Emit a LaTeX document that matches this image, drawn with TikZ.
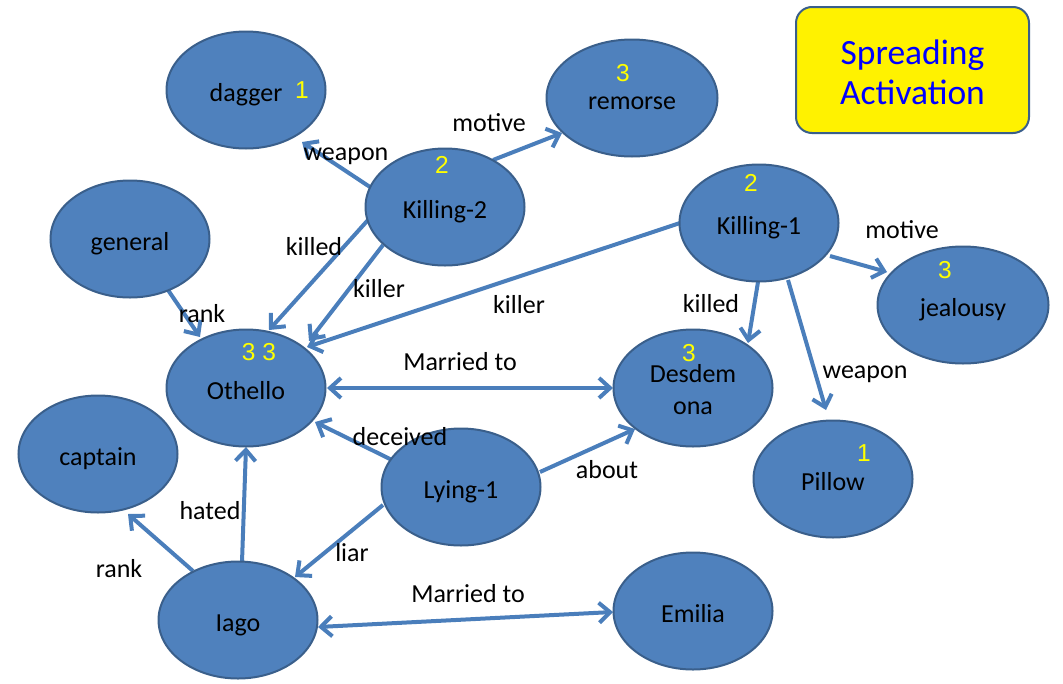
\documentclass[tikz,border=0pt]{standalone}
\usepackage{fontspec}
\setmainfont{Carlito}
\newfontfamily\numfont{Liberation Sans}
\usetikzlibrary{shapes.geometric,arrows.meta,calc}
\definecolor{nodefill}{HTML}{4F81BD}
\definecolor{nodeedge}{HTML}{3A5F8B}
\definecolor{linkcol}{HTML}{4A7EBB}
\definecolor{titleblue}{HTML}{0000FF}
\definecolor{numyellow}{HTML}{FFFF00}
\pgfdeclarelayer{bg}
\pgfsetlayers{bg,main}
\begin{document}
\begin{tikzpicture}[x=1pt,y=-1pt,
  concept/.style={ellipse, draw=nodeedge, line width=2pt, fill=nodefill, minimum width=159pt, minimum height=117pt, inner sep=0pt, font=\fontsize{26}{32}\selectfont, align=center, text height=26pt, text depth=4pt},
  wide/.style={concept, minimum width=171pt},
  twoline/.style={text height=57pt, text depth=4pt},
  link/.style={draw=linkcol, line width=4pt, -{Straight Barb[length=11pt,width=20pt]}},
  both/.style={draw=linkcol, line width=4pt, {Straight Barb[length=11pt,width=20pt]}-{Straight Barb[length=11pt,width=20pt]}},
  lbl/.style={font=\fontsize{26}{30}\selectfont, inner sep=0pt},
  num/.style={font=\numfont\fontsize{24.5}{26}\selectfont, text=numyellow, inner sep=0pt},
  titlebox/.style={draw=nodeedge, line width=2pt, fill=yellow, rounded corners=16pt, minimum width=233pt, minimum height=126pt, text=titleblue, font=\fontsize{35.5}{40}\selectfont, align=center, text height=72pt, text depth=4pt}
]
\useasboundingbox (0,0) rectangle (1063,683);

% concept nodes
\node[concept] (dagger) at (246,90) {dagger};
\node[wide] (remorse) at (632,98) {remorse};
\node[concept] (k2) at (445,207) {Killing-2};
\node[concept] (k1) at (759,223) {Killing-1};
\node[wide] (jealousy) at (963,305) {jealousy};
\node[concept] (general) at (130,239) {general};
\node[concept] (othello) at (246,388) {Othello};
\node[concept, twoline] (desdemona) at (693,388) {Desdem\\ona};
\node[concept] (captain) at (98,454) {captain};
\node[concept] (lying) at (461,487) {Lying-1};
\node[concept] (pillow) at (833,479) {Pillow};
\node[concept] (iago) at (238,620) {Iago};
\node[concept] (emilia) at (693,611) {Emilia};

\node[titlebox] (title) at (912.5,70) {Spreading\\Activation};

% connectors
\begin{pgfonlayer}{bg}
\draw[link] ($(k2)+(-75,-20)$) -- ($(dagger)+(56,52)$);
\draw[link] ($(k2)+(48,-47)$) -- ($(remorse)+(-70,35)$);
\draw[link] ($(k2)+(-77,13)$) -- ($(othello)+(23,-58)$);
\draw[link] ($(k2)+(-62,38)$) -- ($(othello)+(63,-47)$);
\draw[link] ($(k1)+(-79,0)$) -- ($(othello)+(61,-41)$);
\draw[link] ($(k1)+(-1,59)$) -- ($(desdemona)+(55,-45)$);
\draw[link] ($(k1)+(29,57)$) -- ($(pillow)+(-7,-69)$);
\draw[link] ($(k1)+(71,33)$) -- ($(jealousy)+(-76,-33)$);
\draw[link] ($(general)+(38,51)$) -- ($(othello)+(-46,-51)$);
\draw[both] ($(othello)+(81,0)$) -- ($(desdemona)+(-80,0)$);
\draw[link] ($(lying)+(-69,-27)$) -- ($(othello)+(69,34)$);
\draw[link] ($(lying)+(79,-15)$) -- ($(desdemona)+(-58,41)$);
\draw[link] ($(lying)+(-78,18)$) -- ($(iago)+(57,-43)$);
\draw[link] ($(iago)+(4,-58)$) -- ($(othello)+(0,59)$);
\draw[link] ($(iago)+(-45,-49)$) -- ($(captain)+(30,60)$);
\draw[both] ($(iago)+(80,7)$) -- ($(emilia)+(-80,1)$);
\end{pgfonlayer}

% connector labels
\node[lbl] (l-weapon2) at (346,156) {weapon};
\node[lbl] (l-motive2) at (489,123) {motive};
\node[lbl] (l-killed2) at (314,247) {killed};
\node[lbl] (l-killer2) at (379,289) {killer};
\node[lbl] (l-killer1) at (519,305) {killer};
\node[lbl] (l-killed1) at (711,304) {killed};
\node[lbl] (l-weapon1) at (865,374) {weapon};
\node[lbl] (l-motive1) at (902,230) {motive};
\node[lbl] (l-rank1) at (202,314) {rank};
\node[lbl] (l-married1) at (460,362) {Married to};
\node[lbl] (l-deceived) at (400,437) {deceived};
\node[lbl] (l-about) at (607,470) {about};
\node[lbl] (l-liar) at (352,553) {liar};
\node[lbl] (l-hated) at (210,511) {hated};
\node[lbl] (l-rank2) at (119,569) {rank};
\node[lbl] (l-married2) at (468,594) {Married to};

% activation numbers
\node[num] (n-dagger) at (302,90) {1};
\node[num] (n-remorse) at (623,73) {3};
\node[num] (n-k2) at (442,165) {2};
\node[num] (n-k1) at (751,183) {2};
\node[num] (n-jealousy) at (945,270) {3};
\node[num] (n-othello) at (259,352) {3 3};
\node[num] (n-desdemona) at (689,353) {3};
\node[num] (n-pillow) at (864,453) {1};
\end{tikzpicture}
\end{document}
